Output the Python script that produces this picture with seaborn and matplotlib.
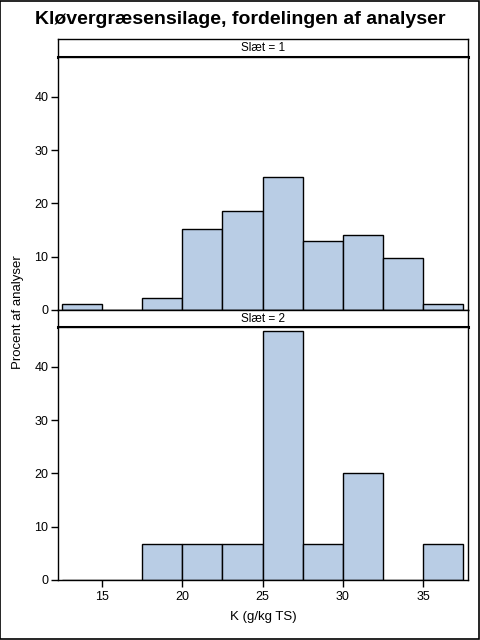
import pandas as pd
import seaborn as sns
import matplotlib.pyplot as plt
from matplotlib.patches import Rectangle

# bin midpoints for K (g/kg TS), width 2.5
bin_mid = [13.75, 16.25, 18.75, 21.25, 23.75, 26.25, 28.75, 31.25, 33.75, 36.25]
pct_slaet1 = [1.1, 0.0, 2.2, 15.2, 18.5, 25.0, 13.0, 14.1, 9.8, 1.1]
pct_slaet2 = [0.0, 0.0, 6.7, 6.7, 6.7, 46.7, 6.7, 20.0, 0.0, 6.7]
panels = ["Slæt = 1", "Slæt = 2"]
yticks = [0, 10, 20, 30, 40]
xticks = [15, 20, 25, 30, 35]

sns.set_style("ticks")
plt.rcParams["font.family"] = ["Liberation Sans", "DejaVu Sans"]
plt.rcParams["text.color"] = "black"
plt.rcParams["xtick.color"] = "black"
plt.rcParams["ytick.color"] = "black"
plt.rcParams["axes.labelcolor"] = "black"

fill = "#B9CDE5"

fig = plt.figure(figsize=(4.8, 6.4), dpi=100)
fig.patches.append(Rectangle((0.001, 0.001), 0.997, 0.997, transform=fig.transFigure,
                             fill=False, edgecolor="black", linewidth=1.2))

left, width = 58 / 480, 410 / 480
layout = [(39, 57, 310), (310, 327, 580)]

for i, (label, pct) in enumerate(zip(panels, [pct_slaet1, pct_slaet2])):
    h_top, p_top, p_bot = layout[i]
    hax = fig.add_axes([left, 1 - p_top / 640, width, (p_top - h_top) / 640])
    hax.set_xticks([])
    hax.set_yticks([])
    for s in hax.spines.values():
        s.set_linewidth(1.0)
        s.set_color("black")
    hax.spines["bottom"].set_linewidth(2.2)
    hax.text(0.5, 0.5, label, ha="center", va="center", fontsize=8.5, transform=hax.transAxes)

    ax = fig.add_axes([left, 1 - p_bot / 640, width, (p_bot - p_top) / 640])
    df = pd.DataFrame({"K": bin_mid, "pct": pct})
    sns.histplot(data=df, x="K", weights="pct", binwidth=2.5, binrange=(12.5, 37.5), ax=ax,
                 color=fill, edgecolor="black", linewidth=1.0, alpha=1)
    ax.set_xlim(12.25, 37.8)
    ax.set_ylim(0, 47.5)
    ax.set_yticks(yticks)
    ax.set_ylabel("")
    ax.set_xlabel("")
    for s in ax.spines.values():
        s.set_linewidth(1.0)
        s.set_color("black")
    ax.spines["top"].set_visible(True)
    ax.spines["right"].set_visible(True)
    ax.tick_params(axis="y", length=5, width=1, labelsize=9, pad=2)
    if i == 0:
        ax.set_xticks([])
    else:
        ax.set_xticks(xticks)
        ax.tick_params(axis="x", length=5, width=1, labelsize=9, pad=3)
        ax.set_xlabel("K (g/kg TS)", fontsize=9.5, labelpad=6)

fig.text(0.5, 1 - 20 / 640, "Kløvergræsensilage, fordelingen af analyser",
         ha="center", va="center", fontsize=14, fontweight="bold")
fig.text(18 / 480, 1 - 312 / 640, "Procent af analyser", rotation=90,
         ha="center", va="center", fontsize=9.5)

fig.savefig("out.png", dpi=100)
